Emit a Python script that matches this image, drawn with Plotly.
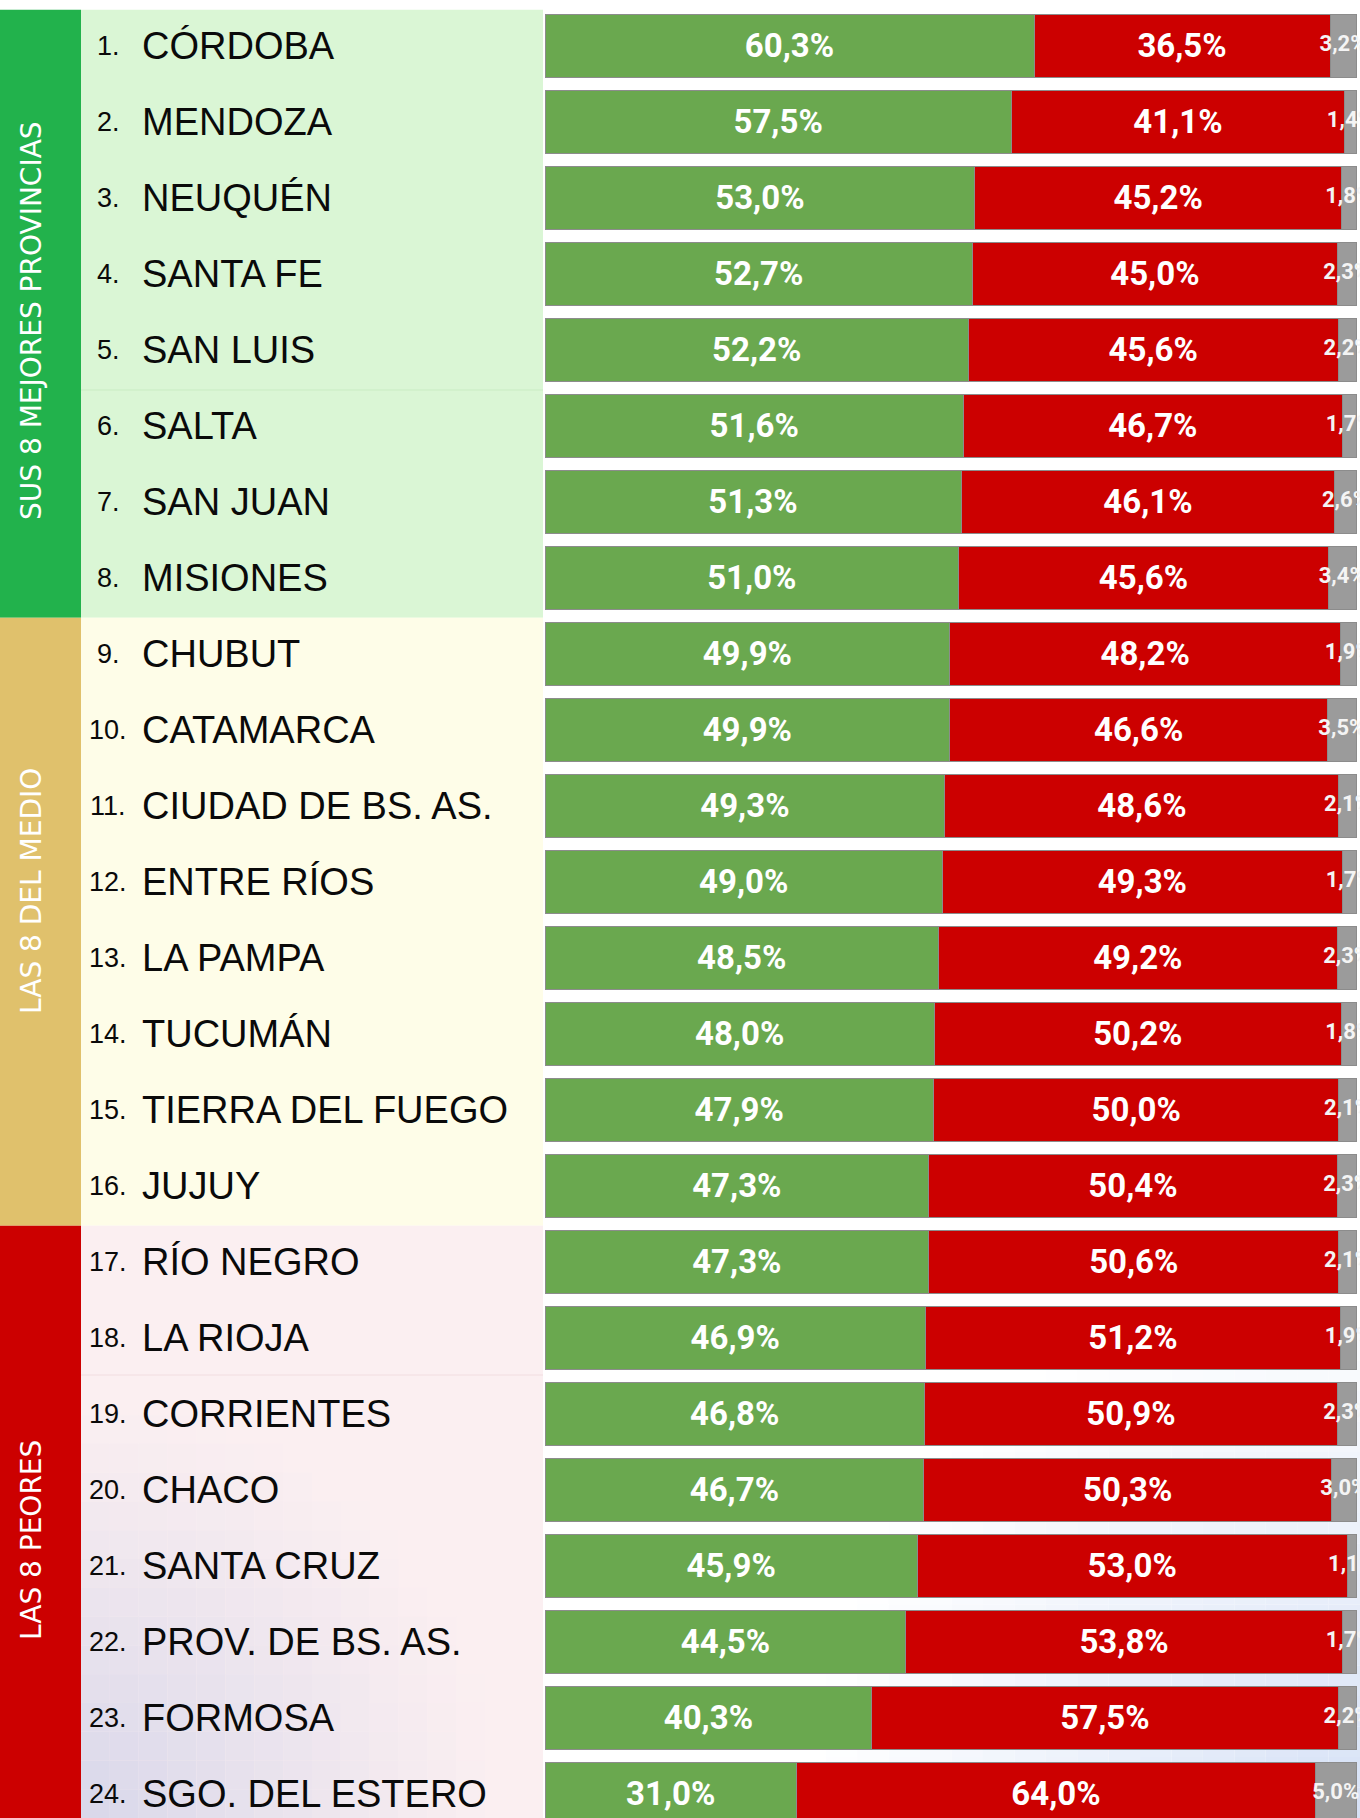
import plotly.graph_objects as go

# ---------------- data ----------------
provincias = [
    "CÓRDOBA", "MENDOZA", "NEUQUÉN", "SANTA FE", "SAN LUIS", "SALTA", "SAN JUAN", "MISIONES",
    "CHUBUT", "CATAMARCA", "CIUDAD DE BS. AS.", "ENTRE RÍOS", "LA PAMPA", "TUCUMÁN",
    "TIERRA DEL FUEGO", "JUJUY", "RÍO NEGRO", "LA RIOJA", "CORRIENTES", "CHACO",
    "SANTA CRUZ", "PROV. DE BS. AS.", "FORMOSA", "SGO. DEL ESTERO",
]
rangos = [f"{i}." for i in range(1, 25)]
verde = [60.3, 57.5, 53.0, 52.7, 52.2, 51.6, 51.3, 51.0,
         49.9, 49.9, 49.3, 49.0, 48.5, 48.0, 47.9, 47.3,
         47.3, 46.9, 46.8, 46.7, 45.9, 44.5, 40.3, 31.0]
rojo = [36.5, 41.1, 45.2, 45.0, 45.6, 46.7, 46.1, 45.6,
        48.2, 46.6, 48.6, 49.3, 49.2, 50.2, 50.0, 50.4,
        50.6, 51.2, 50.9, 50.3, 53.0, 53.8, 57.5, 64.0]
otros = [3.2, 1.4, 1.8, 2.3, 2.2, 1.7, 2.6, 3.4,
         1.9, 3.5, 2.1, 1.7, 2.3, 1.8, 2.1, 2.3,
         2.1, 1.9, 2.3, 3.0, 1.1, 1.7, 2.2, 5.0]
grupos = ["SUS 8 MEJORES PROVINCIAS", "LAS 8 DEL MEDIO", "LAS 8 PEORES"]
grupo_tam = [8, 8, 8]

# ---------------- layout constants ----------------
W, H = 1360, 1818
ROW0, PITCH = 45.5, 76.0          # pixel centre of first row, row pitch


def yv(p):
    """pixel (from top) -> y-axis category units"""
    return (p - ROW0) / PITCH


def fmt(v):
    return f"{v:.1f}%".replace(".", ",")


strip_col = ["#22B24C", "#E0C16C", "#CC0000"]
panel_col = ["#DAF6D5", "#FEFDE8", "#FBEFF1"]
label_y = [yv(321), yv(891), yv(1540)]

fig = go.Figure()

bar_font = dict(family="Roboto, Arial, sans-serif", size=33, color="white", weight="bold")
outline = dict(color="#8C8C8C", width=1)

fig.add_trace(go.Bar(
    y=provincias, x=verde, orientation="h", name="verde",
    marker=dict(color="#6AA84F", line=outline),
    text=[fmt(v) for v in verde], textposition="inside", insidetextanchor="middle",
    textfont=bar_font, hoverinfo="skip"))
fig.add_trace(go.Bar(
    y=provincias, x=rojo, orientation="h", name="rojo",
    marker=dict(color="#CC0000", line=outline),
    text=[fmt(v) for v in rojo], textposition="inside", insidetextanchor="middle",
    textfont=bar_font, hoverinfo="skip"))
fig.add_trace(go.Bar(
    y=provincias, x=otros, orientation="h", name="otros",
    marker=dict(color="#9B9B9B", line=outline),
    textposition="none", hoverinfo="skip"))
fig.add_trace(go.Scatter(
    y=provincias, x=[g + r + o / 2 for g, r, o in zip(verde, rojo, otros)],
    mode="text", text=[fmt(v) for v in otros],
    textfont=dict(family="Roboto, Arial, sans-serif", size=22, color="#F4F4F4", weight="bold"),
    cliponaxis=False, hoverinfo="skip"))

shapes = []
annotations = []

# group strips and label panels
start = 0
for gi, n in enumerate(grupo_tam):
    y0 = start - 0.47
    y1 = start + n - 0.47 if gi < len(grupo_tam) - 1 else yv(H) + 0.2
    shapes.append(dict(type="rect", xref="paper", yref="y", x0=0, x1=81 / W, y0=y0, y1=y1,
                       fillcolor=strip_col[gi], line=dict(width=0), layer="below"))
    shapes.append(dict(type="rect", xref="paper", yref="y", x0=81 / W, x1=543 / W, y0=y0, y1=y1,
                       fillcolor=panel_col[gi], line=dict(width=0), layer="below"))
    annotations.append(dict(xref="paper", yref="y", x=31 / W, y=label_y[gi], text=grupos[gi],
                            textangle=-90, showarrow=False, xanchor="center", yanchor="middle",
                            font=dict(family="DejaVu Sans, Open Sans, sans-serif", size=28, color="white")))
    start += n


def mix(c1, c2, t):
    a = [int(c1[i:i + 2], 16) for i in (1, 3, 5)]
    b = [int(c2[i:i + 2], 16) for i in (1, 3, 5)]
    return "rgb(%d,%d,%d)" % tuple(round(a[k] + (b[k] - a[k]) * t) for k in range(3))


# soft gradients at the bottom (pink panel -> lavender, bar area -> light blue)
def gradient(x0p, x1p, y0p, y1p, cx, cy, R, base, tint, nx, ny):
    dx = (x1p - x0p) / nx
    dy = (y1p - y0p) / ny
    for i in range(nx):
        for j in range(ny):
            mx = x0p + (i + 0.5) * dx
            my = y0p + (j + 0.5) * dy
            d = ((mx - cx) ** 2 + (my - cy) ** 2) ** 0.5
            t = max(0.0, 1 - d / R)
            if t <= 0.02:
                continue
            shapes.append(dict(type="rect", xref="paper", yref="y",
                               x0=(x0p + i * dx) / W, x1=(x0p + (i + 1) * dx) / W,
                               y0=yv(y0p + j * dy), y1=yv(y0p + (j + 1) * dy) + 0.001,
                               fillcolor=mix(base, tint, t ** 1.1), line=dict(width=0), layer="below"))


gradient(81, 543, 1300, H, 81, H, 420, "#FBEFF1", "#D8D7EA", 16, 18)
gradient(543, W, 1330, H, W, H, 560, "#FFFFFF", "#D6E1F6", 26, 16)

# faint separators inside the label panel
for pv, col in [(390, "#C9ECC3"), (1375, "#F1DDE0")]:
    shapes.append(dict(type="line", xref="paper", yref="y", x0=81 / W, x1=543 / W,
                       y0=yv(pv), y1=yv(pv), line=dict(color=col, width=1), layer="below"))

# row labels
for rk, name in zip(rangos, provincias):
    annotations.append(dict(xref="paper", yref="y", x=108 / W, y=name, text=rk,
                            showarrow=False, xanchor="center", yanchor="middle",
                            font=dict(family="Liberation Sans, Arial, sans-serif", size=27, color="#0A0A0A")))
    annotations.append(dict(xref="paper", yref="y", x=140 / W, y=name, text=name,
                            showarrow=False, xanchor="left", yanchor="middle",
                            font=dict(family="Liberation Sans, Arial, sans-serif", size=38, color="#0A0A0A")))

fig.update_layout(
    width=W, height=H, margin=dict(l=0, r=0, t=0, b=0),
    paper_bgcolor="white", plot_bgcolor="rgba(0,0,0,0)",
    barmode="stack", bargap=1 - 63 / 76, showlegend=False,
    xaxis=dict(domain=[545 / W, 1], range=[0, 815 / 8.11], visible=False, fixedrange=True),
    yaxis=dict(type="category", categoryorder="array", categoryarray=provincias,
               range=[yv(H), yv(0)], visible=False, fixedrange=True),
    shapes=shapes, annotations=annotations,
)

fig.write_html("out.html", config={"displayModeBar": False},
               post_script="document.body.style.margin='0';document.body.style.overflow='hidden';")
